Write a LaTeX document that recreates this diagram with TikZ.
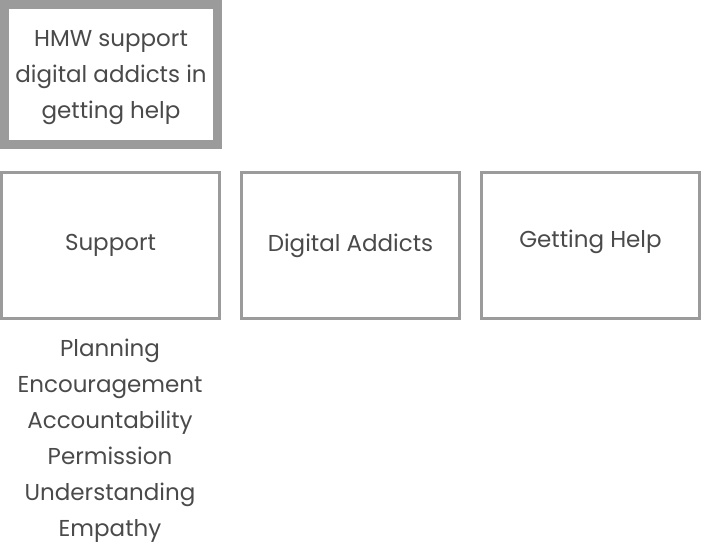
\documentclass[tikz,border=0pt]{standalone}
\usepackage{fontspec}
\setmainfont{Poppins}
\definecolor{boxgray}{HTML}{9B9B9B}
\definecolor{txtgray}{HTML}{4A4A4A}
\tikzset{
  hmwbox/.style={draw=boxgray, line width=9pt, fill=white, minimum width=213pt, minimum height=140pt, inner sep=0pt, align=center, text=txtgray, font=\fontsize{23}{36}\selectfont},
  catbox/.style={draw=boxgray, line width=3pt, fill=white, minimum width=218pt, minimum height=146pt, inner sep=0pt, align=center, text=txtgray, font=\fontsize{23}{36}\selectfont},
  listtext/.style={align=center, text=txtgray, inner sep=0pt, font=\fontsize{23}{36}\selectfont}
}
\begin{document}
\begin{tikzpicture}[x=1pt,y=-1pt]
\useasboundingbox (0,0) rectangle (702,549);
\node[hmwbox] (hmw) at (111,74.5) {};
\node[text=txtgray, align=center, inner sep=0pt, font=\fontsize{23}{36}\selectfont] (hmwtext) at (111,78) {HMW support\\digital addicts in\\getting help};
\node[catbox] (support) at (110.5,245.5) {Support};
\node[catbox] (addicts) at (350.5,245.5) {Digital Addicts};
\node[catbox] (help) at (590.5,245.5) {};
\node[text=txtgray, inner sep=0pt, font=\fontsize{23}{36}\selectfont] (helptext) at (590.5,242) {Getting Help};
\node[listtext] (list) at (110,441) {Planning\\Encouragement\\Accountability\\Permission\\Understanding\\Empathy};
\end{tikzpicture}
\end{document}
